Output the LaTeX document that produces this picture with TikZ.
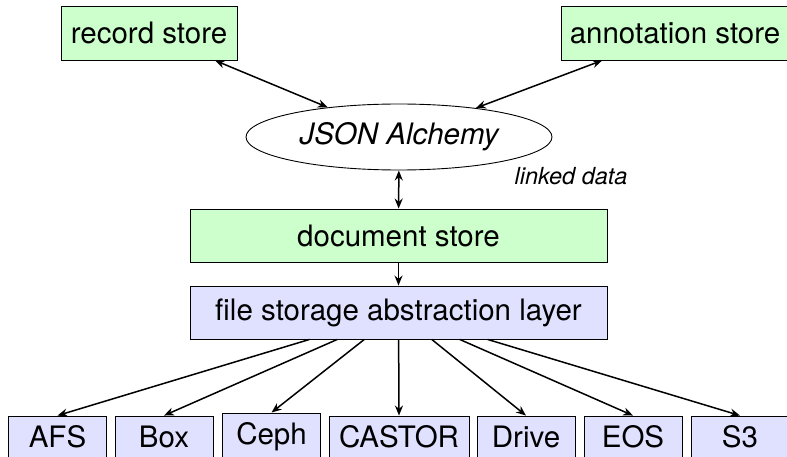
\documentclass[tikz,border=0pt]{standalone}
\usepackage{fontspec}
\setmainfont{TeX Gyre Heros}
\usetikzlibrary{shapes.geometric,arrows.meta}
\definecolor{boxgreen}{RGB}{204,255,204}
\definecolor{boxblue}{RGB}{224,224,255}
\begin{document}
\begin{tikzpicture}[x=1pt,y=-1pt,
  store/.style={draw, line width=0.9pt, fill=boxgreen, inner sep=0pt, minimum height=54pt, font=\fontsize{29.5}{32}\selectfont},
  layer/.style={store, fill=boxblue},
  backend/.style={layer, minimum width=98pt, minimum height=41pt},
  tipa/.tip={Stealth[length=10pt,width=8pt]},
  conn/.style={line width=1.5pt, -tipa},
  bconn/.style={line width=1.5pt, tipa-tipa}]
\useasboundingbox (0,0) rectangle (787,457);
\node[store, minimum width=176pt] (rec) at (149,33) {record store};
\node[store, minimum width=228pt] (ann) at (675,33) {annotation store};
\node[draw, ellipse, line width=0.9pt, minimum width=306pt, minimum height=66pt, inner sep=0pt, font=\itshape\fontsize{29.5}{32}\selectfont] (json) at (399,137) {JSON Alchemy};
\node[font=\itshape\fontsize{23.5}{26}\selectfont] (ld) at (571,176) {linked data};
\node[store, minimum width=417pt, minimum height=53pt] (doc) at (398.5,235.5) {document store};
\node[layer, minimum width=417pt, minimum height=53pt] (fsal) at (398.5,312.5) {file storage abstraction layer};
\node[backend] (afs) at (57.5,436.5) {AFS};
\node[backend] (box) at (164,436.5) {Box};
\node[backend, minimum height=47pt] (ceph) at (271.5,436.5) {Ceph};
\node[backend, minimum width=140pt] (castor) at (399,436.5) {CASTOR};
\node[backend] (drive) at (526,436.5) {Drive};
\node[backend] (eos) at (633,436.5) {EOS};
\node[backend] (s3) at (740,436.5) {S3};
\draw[bconn] (rec) -- (json);
\draw[bconn] (ann) -- (json);
\draw[bconn] (json) -- (doc);
\draw[conn] (doc) -- (fsal);
\foreach \b in {afs,box,ceph,castor,drive,eos,s3}
  \draw[conn] (fsal) -- (\b.north);
\end{tikzpicture}
\end{document}
